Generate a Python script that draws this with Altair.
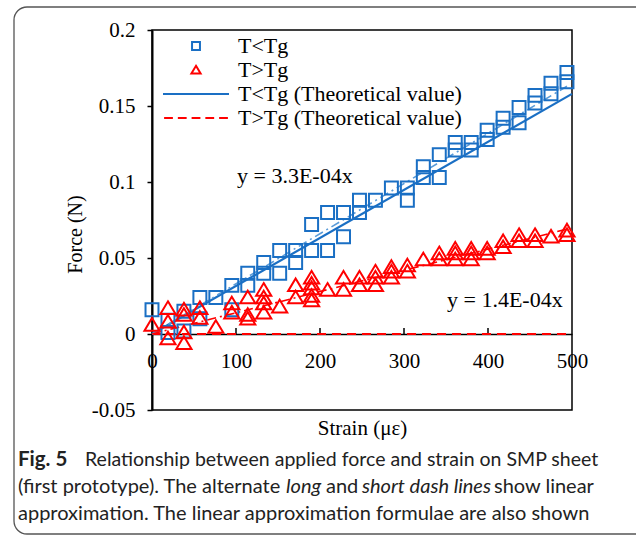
import altair as alt
import pandas as pd

# ---------------- data ----------------
strain_positions = [0, 19, 38, 57, 76, 95, 114, 133, 152, 171, 190, 209, 228, 247,
                    266, 285, 304, 323, 342, 361, 380, 399, 418, 437, 456, 475, 494]

blue_force_by_step = [
    [0.016], [0.009, 0.001], [0.015, 0.002], [0.024, 0.010], [0.024],
    [0.032, 0.016], [0.040, 0.032], [0.047, 0.040], [0.055, 0.040], [0.055, 0.047],
    [0.072, 0.055], [0.080, 0.055], [0.080, 0.064], [0.088, 0.080], [0.088],
    [0.096], [0.096, 0.088], [0.110, 0.103], [0.118, 0.103], [0.126, 0.121],
    [0.126, 0.121], [0.134, 0.128], [0.142, 0.136], [0.149, 0.139], [0.157, 0.152],
    [0.165, 0.158], [0.172, 0.166],
]
red_force_by_step = [
    [0.006], [0.017, 0.008, -0.003], [0.016, 0.0125, 0.001, -0.006], [0.017, 0.0105], [0.0046],
    [0.020, 0.014], [0.024, 0.0125, 0.010], [0.029, 0.024, 0.020, 0.014], [0.018], [0.032, 0.024],
    [0.037, 0.033, 0.030, 0.025, 0.022], [0.029], [0.037, 0.029], [0.037, 0.032],
    [0.041, 0.037, 0.032], [0.044, 0.041, 0.037], [0.045, 0.041], [0.049], [0.053, 0.049],
    [0.056, 0.053, 0.049], [0.056, 0.053, 0.049], [0.056, 0.053], [0.061, 0.057],
    [0.065, 0.061], [0.065, 0.061], [0.064], [0.068, 0.065],
]

series_names = ["T<Tg", "T>Tg", "T<Tg (Theoretical value)", "T>Tg (Theoretical value)"]

theory_x = [0, 500]
theory_blue_y = [0, 0.158]
theory_red_y = [0, 0]

trend_x = [0, 494]
trend_blue_y = [0, 0.163]
trend_red_y = [0, 0.069]

eq_text = ["y = 3.3E-04x", "y = 1.4E-04x"]
eq_x = [170, 420]
eq_y = [0.104, 0.0225]

x_ticks = [0, 100, 200, 300, 400, 500]
inner_x_ticks = [100, 200, 300, 400]
y_ticks = [-0.05, 0, 0.05, 0.1, 0.15, 0.2]

caption_line1_bold = "Fig. 5"
caption_line1 = "Relationship between applied force and strain on SMP sheet"
caption_line2 = ["(first prototype). The alternate", "long", "and", "short dash lines", "show linear"]
caption_line3 = "approximation. The linear approximation formulae are also shown"

# ---------------- tables ----------------
rows = []
for name, by_step in ((series_names[0], blue_force_by_step), (series_names[1], red_force_by_step)):
    for s, vals in zip(strain_positions, by_step):
        for v in vals:
            rows.append({"strain": s, "force": v, "series": name})
points = pd.DataFrame(rows)

blue_c = "#1A6FC4"
red_c = "#FF0000"
serif = "Liberation Serif"
sans = "Lato"

X_DOMAIN = [0, 500]
Y_DOMAIN = [-0.05, 0.2]
xs = alt.Scale(domain=X_DOMAIN, nice=False, zero=False)
ys = alt.Scale(domain=Y_DOMAIN, nice=False, zero=False)

x_axis = alt.Axis(orient="bottom", offset=-76, values=x_ticks, ticks=False,
                  domainColor="black", domainWidth=1.5, labelFont=serif,
                  labelFontSize=21, labelColor="black", labelPadding=16,
                  labelFlush=False, grid=False, format="d",
                  title="Strain (με)", titleFont=serif, titleFontSize=21,
                  titleFontWeight="normal", titleColor="black",
                  titleY=94, titleBaseline="middle")
y_axis = alt.Axis(orient="left", values=y_ticks, tickSize=5, tickWidth=1.5,
                  tickColor="black", domainColor="black", domainWidth=2,
                  labelFont=serif, labelFontSize=21, labelColor="black",
                  labelPadding=12,
                  labelExpr="toString(round(datum.value*100)/100)", grid=False,
                  title="Force (N)", titleFont=serif, titleFontSize=20,
                  titleFontWeight="normal", titleColor="black",
                  titleX=-77, titleY=204, titleBaseline="middle")


def xq(field="strain:Q"):
    return alt.X(field, scale=xs, axis=x_axis)


def yq(field):
    return alt.Y(field, scale=ys, axis=y_axis)


shape_paths = [
    "M-0.36,-0.36H0.36V0.36H-0.36Z",
    "M0,-0.38L0.42,0.32H-0.42Z",
    "M-3,0H3",
    "M-2.9,0H-2.1M-1.65,0H-0.85M-0.4,0H0.4M0.85,0H1.65M2.1,0H2.9",
]

color_scale = alt.Scale(domain=series_names, range=[blue_c, red_c, blue_c, red_c])
shape_scale = alt.Scale(domain=series_names, range=shape_paths)

legend_opts = dict(title=None, orient="none", legendX=32, legendY=4, labelFont=serif,
                   labelFontSize=22, labelColor="black", symbolSize=484, symbolStrokeWidth=2,
                   rowPadding=1, labelOffset=30, padding=0, labelLimit=400)

pts = alt.Chart(points).mark_point(filled=False, strokeWidth=2, opacity=1).encode(
    x=xq(), y=yq("force:Q"),
    color=alt.Color("series:N", scale=color_scale, legend=alt.Legend(**legend_opts)),
    shape=alt.Shape("series:N", scale=shape_scale, legend=alt.Legend(**legend_opts)),
    size=alt.value(1296),
)

theory_df = pd.DataFrame({"strain": theory_x, "blue": theory_blue_y, "red": theory_red_y})
trend_df = pd.DataFrame({"strain": trend_x, "blue": trend_blue_y, "red": trend_red_y})
tick_df = pd.DataFrame({"strain": inner_x_ticks, "zero": [0] * len(inner_x_ticks),
                        "top": [0.004] * len(inner_x_ticks)})

# small upward tick marks on the zero line (the x axis crosses at y = 0)
inner_ticks = alt.Chart(tick_df).mark_rule(color="black", strokeWidth=1.5).encode(
    x=xq(), y=yq("zero:Q"), y2="top:Q")

theory_red = alt.Chart(theory_df).mark_line(color=red_c, strokeWidth=2.2, strokeDash=[9, 6]).encode(
    x=xq(), y=yq("red:Q"))
theory_blue = alt.Chart(theory_df).mark_line(color=blue_c, strokeWidth=2.2).encode(
    x=xq(), y=yq("blue:Q"))
trend_blue = alt.Chart(trend_df).mark_line(color="#5A9BD8", strokeWidth=1.6,
                                           strokeDash=[9, 4, 2, 4]).encode(x=xq(), y=yq("blue:Q"))
trend_red = alt.Chart(trend_df).mark_line(color=red_c, strokeWidth=1.6,
                                          strokeDash=[9, 4, 2, 4]).encode(x=xq(), y=yq("red:Q"))

eq_df = pd.DataFrame({"strain": eq_x, "force": eq_y, "label": eq_text})
eqs = alt.Chart(eq_df).mark_text(font=serif, fontSize=22, color="black", baseline="middle",
                                 align="center").encode(x=xq(), y=yq("force:Q"), text="label:N")

one = pd.DataFrame({"k": [0]})
frame = alt.Chart(one).mark_rect(fill="transparent", stroke="#555", strokeWidth=1.3,
                                 cornerRadius=13).encode(
    x=alt.value(-138), x2=alt.value(560), y=alt.value(-23), y2=alt.value(504))


def cap(text, x, y, weight="normal", style="normal", size=20):
    return alt.Chart(one).mark_text(font=sans, fontSize=size, fontWeight=weight, fontStyle=style,
                                    color="#222", align="left", baseline="alphabetic").encode(
        x=alt.value(x), y=alt.value(y), text=alt.value(text))


caps = [
    cap(caption_line1_bold, -134, 436, weight="bold", size=20.5),
    cap(caption_line1, -67, 436, size=19.5),
    cap(caption_line2[0], -134, 463),
    cap(caption_line2[1], 134, 463, style="italic"),
    cap(caption_line2[2], 174, 463),
    cap(caption_line2[3], 210, 463, style="italic"),
    cap(caption_line2[4], 342, 463),
    cap(caption_line3, -134, 490),
]

chart = alt.layer(frame, inner_ticks, theory_red, theory_blue, trend_blue, trend_red, pts, eqs, *caps).properties(
    width=420, height=380,
    background="white",
    autosize=alt.AutoSizeParams(type="none"),
    padding={"left": 152, "top": 30, "right": 64, "bottom": 125},
).configure_view(stroke="black", strokeWidth=1.5)

chart.save("out.html", embed_options={"renderer": "svg", "actions": False})
